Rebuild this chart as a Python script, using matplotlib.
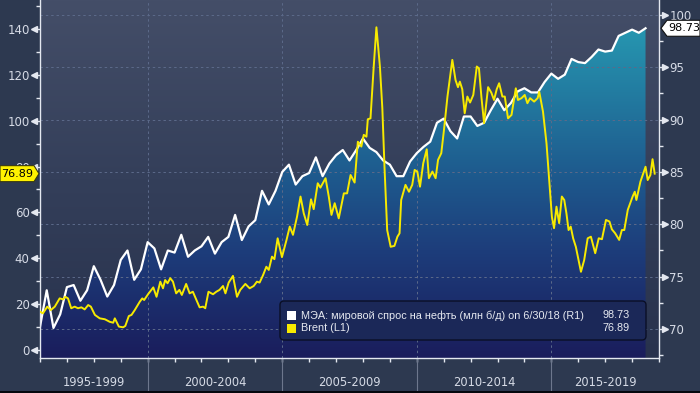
import numpy as np
import matplotlib
matplotlib.use('Agg')
import matplotlib.pyplot as plt
import matplotlib.transforms as mtransforms
from matplotlib import font_manager
from matplotlib.colors import LinearSegmentedColormap
from matplotlib.patches import Polygon, FancyBboxPatch, Rectangle
from matplotlib.ticker import MultipleLocator

# IEA world oil demand, mb/d (right axis), quarterly from 1996
demand = [70.2, 73.7, 70.1, 71.4, 74.0, 74.2, 72.7, 73.7, 76.0, 74.7,
          73.1, 74.2, 76.6, 77.5, 74.7, 75.7, 78.3, 77.7, 75.7, 77.5,
          77.3, 79.0, 76.9, 77.5, 77.9, 78.8, 77.2, 78.3, 78.8, 80.9,
          78.5, 79.8, 80.4, 83.2, 81.9, 83.2, 85.0, 85.7, 83.8, 84.6,
          84.9, 86.4, 84.6, 85.8, 86.6, 87.1, 86.1, 87.1, 88.2, 87.3,
          86.9, 86.1, 85.7, 84.6, 84.6, 86.0, 86.8, 87.4, 87.9, 89.7,
          90.1, 88.9, 88.2, 90.3, 90.3, 89.4, 89.7, 90.9, 92.0, 90.9,
          91.6, 92.7, 93.0, 92.6, 92.6, 93.6, 94.4, 93.9, 94.3, 95.8,
          95.5, 95.4, 96.0, 96.7, 96.5, 96.6, 98.0, 98.3, 98.6, 98.3, 98.73]
demand_dates = 1996 + 0.25 * np.arange(len(demand))

# Brent, USD/bbl (left axis)
brent_dates = [
    1996.00, 1996.11, 1996.27, 1996.40, 1996.55, 1996.73, 1996.86, 1996.94,
    1997.04, 1997.16, 1997.29, 1997.41, 1997.54, 1997.66, 1997.79, 1997.89,
    1998.04, 1998.22, 1998.41, 1998.59, 1998.72, 1998.78, 1998.93, 1999.09,
    1999.17, 1999.30, 1999.40, 1999.52, 1999.71, 1999.80, 1999.87, 2000.02,
    2000.21, 2000.33, 2000.47, 2000.57, 2000.65, 2000.74, 2000.84, 2000.94,
    2001.06, 2001.18, 2001.27, 2001.43, 2001.56, 2001.68, 2001.81, 2001.93,
    2002.06, 2002.14, 2002.26, 2002.43, 2002.55, 2002.67, 2002.80, 2002.89,
    2003.01, 2003.17, 2003.32, 2003.44, 2003.63, 2003.79, 2003.94, 2004.06,
    2004.16, 2004.29, 2004.41, 2004.50, 2004.62, 2004.71, 2004.83, 2004.99,
    2005.16, 2005.28, 2005.40, 2005.55, 2005.68, 2005.80, 2005.93, 2006.07,
    2006.17, 2006.32, 2006.42, 2006.61, 2006.73, 2006.83, 2006.95, 2007.10,
    2007.29, 2007.41, 2007.54, 2007.69, 2007.81, 2007.94, 2008.03, 2008.13,
    2008.18, 2008.28, 2008.40, 2008.50, 2008.63, 2008.72, 2008.80, 2008.90,
    2009.03, 2009.17, 2009.28, 2009.36, 2009.42, 2009.58, 2009.71, 2009.83,
    2009.92, 2010.02, 2010.12, 2010.24, 2010.37, 2010.45, 2010.58, 2010.70,
    2010.79, 2010.91, 2011.01, 2011.14, 2011.32, 2011.44, 2011.53, 2011.60,
    2011.69, 2011.78, 2011.88, 2011.98, 2012.10, 2012.23, 2012.31, 2012.40,
    2012.50, 2012.65, 2012.77, 2012.87, 2012.97, 2013.06, 2013.18, 2013.27,
    2013.39, 2013.52, 2013.68, 2013.76, 2013.89, 2014.01, 2014.11, 2014.21,
    2014.36, 2014.49, 2014.55, 2014.69, 2014.82, 2014.94, 2015.02, 2015.10,
    2015.19, 2015.29, 2015.39, 2015.48, 2015.56, 2015.64, 2015.72, 2015.81,
    2015.91, 2016.01, 2016.10, 2016.22, 2016.35, 2016.47, 2016.63, 2016.76,
    2016.88, 2017.03, 2017.16, 2017.25, 2017.37, 2017.52, 2017.62, 2017.71,
    2017.84, 2018.02, 2018.10, 2018.16, 2018.31, 2018.50, 2018.58, 2018.68,
    2018.76, 2018.84]
brent = [
    16.7, 16.0, 18.9, 17.4, 18.9, 22.5, 22.1, 23.2,
    22.5, 18.2, 18.9, 18.2, 18.6, 17.7, 19.6, 18.9,
    15.3, 13.8, 13.4, 12.3, 11.9, 13.8, 10.2, 9.9,
    10.5, 14.8, 15.3, 17.4, 21.1, 22.5, 21.8, 24.4,
    27.3, 23.2, 29.8, 26.9, 30.5, 29.1, 31.3, 29.8,
    24.7, 26.2, 24.0, 28.8, 24.7, 25.4, 21.8, 18.6,
    18.9, 18.2, 25.4, 24.3, 25.4, 26.2, 27.9, 24.7,
    29.4, 32.3, 23.2, 26.2, 28.8, 26.9, 27.9, 29.8,
    29.4, 32.7, 36.3, 34.9, 40.7, 39.6, 48.7, 40.5,
    48.0, 53.8, 50.2, 58.1, 66.9, 59.6, 54.5, 65.7,
    61.4, 72.7, 70.8, 74.9, 66.9, 58.9, 64.0, 57.4,
    68.3, 68.3, 76.3, 73.0, 90.8, 88.7, 93.8, 93.0,
    100.6, 101.0, 123.6, 140.7, 123.6, 105.4, 79.9, 52.3,
    45.0, 45.4, 49.4, 50.9, 65.4, 72.0, 69.0, 72.0,
    78.5, 77.8, 71.2, 81.4, 87.5, 74.9, 77.8, 74.9,
    82.9, 85.8, 95.9, 110.5, 126.5, 117.7, 114.6, 117.0,
    113.7, 103.2, 110.5, 107.9, 111.2, 123.6, 122.8, 110.5,
    98.9, 114.6, 112.2, 109.0, 113.7, 116.3, 110.5, 110.5,
    101.0, 102.5, 114.1, 109.0, 109.8, 111.2, 107.6, 109.8,
    108.3, 109.8, 112.6, 103.9, 90.1, 71.2, 58.1, 53.1,
    62.5, 55.3, 66.9, 65.4, 59.6, 52.3, 53.8, 48.7,
    45.0, 39.2, 34.1, 39.2, 48.7, 49.4, 42.2, 48.7,
    48.3, 56.7, 56.0, 52.6, 50.9, 48.0, 52.3, 52.3,
    61.1, 66.9, 69.0, 65.4, 73.4, 79.9, 74.1, 76.3,
    83.2, 76.89]

periods = ['1995-1999', '2000-2004', '2005-2009', '2010-2014', '2015-2019']
period_centers = [1998.0, 2002.5, 2007.5, 2012.5, 2017.0]
period_bounds = [2000, 2005, 2010, 2015]

demand_label = 'МЭА: мировой спрос на нефть (млн б/д) on 6/30/18 (R1)'
brent_label = 'Brent (L1)'
demand_last = '98.73'
brent_last = '76.89'

# fonts
names = {f.name for f in font_manager.fontManager.ttflist}
if 'Liberation Sans Narrow' in names:
    narrow, tick_fs, period_fs, tag_fs = 'Liberation Sans Narrow', 10.5, 11, 10
else:
    narrow, tick_fs, period_fs, tag_fs = 'DejaVu Sans', 8.5, 8.3, 8
legend_font = 'Liberation Sans' if 'Liberation Sans' in names else 'DejaVu Sans'

W, H = 700, 393
fig_bg = '#2d3950'
spine_c = '#e4e8f0'
label_c = '#d6dbe6'
grid_c = '#5c6a8a'
yellow = '#f7ea00'

fig = plt.figure(figsize=(W / 100, H / 100), dpi=100, facecolor=fig_bg)
ax = fig.add_axes([40 / W, 35 / H, 619 / W, 358 / H])
ax2 = ax.twinx()

xlim = (1996, 2019)
ylim_r = (67.23, 101.43)
ylim_l = (-3.49, 152.6)

# plot background gradient
bg_cmap = LinearSegmentedColormap.from_list('bg', ['#28324d', '#343f5a', '#444e68'])
grad = np.linspace(0, 1, 256).reshape(-1, 1)
ax.imshow(grad, extent=[xlim[0], xlim[1], ylim_r[0], ylim_r[1]], origin='lower',
          aspect='auto', cmap=bg_cmap, zorder=0)

# area under demand with vertical gradient
fill_cmap = LinearSegmentedColormap.from_list(
    'fill', [(0, '#1a1d5c'), (0.3, '#1d3d7b'), (0.52, '#1e5b8e'), (0.92, '#2696b0'), (1, '#289cb4')])
poly = ax.fill_between(demand_dates, demand, ylim_r[0], facecolor='none', edgecolor='none')
im = ax.imshow(grad, extent=[xlim[0], xlim[1], ylim_r[0], ylim_r[1]], origin='lower',
               aspect='auto', cmap=fill_cmap, zorder=1)
im.set_clip_path(poly.get_paths()[0], transform=ax.transData)

# grid
for y in np.arange(70, 101, 5):
    ax.axhline(y, color=grid_c, ls=(0, (2.5, 3)), lw=0.7, zorder=2)
for x in period_bounds:
    ax.axvline(x, color=grid_c, ls=(0, (2.5, 3)), lw=0.7, zorder=2)

ax.plot(demand_dates, demand, color='white', lw=1.6, zorder=4, solid_joinstyle='round')
ax2.plot(brent_dates, brent, color=yellow, lw=1.4, zorder=5, solid_joinstyle='round')

ax.set_xlim(*xlim)
ax.set_ylim(*ylim_r)
ax2.set_ylim(*ylim_l)

# axes styling
for a in (ax, ax2):
    for s in a.spines.values():
        s.set_visible(False)
for side in ('left', 'right', 'bottom'):
    ax.spines[side].set_visible(True)
    ax.spines[side].set_color(spine_c)
    ax.spines[side].set_linewidth(1.0)
    ax.spines[side].set_zorder(6)

ax.yaxis.tick_right()
ax.set_yticks(np.arange(70, 101, 5))
ax.yaxis.set_minor_locator(MultipleLocator(2.5))
ax.tick_params(axis='y', which='major', length=3, width=1, color=spine_c,
               labelcolor=label_c, labelsize=tick_fs, pad=4.5)
ax.tick_params(axis='y', which='minor', length=3, width=1, color=spine_c)
for t in ax.get_yticklabels():
    t.set_fontfamily(narrow)

ax2.yaxis.tick_left()
ax2.set_yticks(np.arange(0, 141, 20))
ax2.yaxis.set_minor_locator(MultipleLocator(10))
ax2.tick_params(axis='y', which='major', length=3, width=1, color=spine_c,
                labelcolor=label_c, labelsize=tick_fs, pad=4.5)
ax2.tick_params(axis='y', which='minor', length=3, width=1, color=spine_c)
for t in ax2.get_yticklabels():
    t.set_fontfamily(narrow)

ax.set_xticks(np.arange(1996, 2020))
ax.set_xticklabels([])
ax.tick_params(axis='x', length=3, width=1, color=spine_c)

# triangle tick heads
tr_l = mtransforms.blended_transform_factory(ax2.transAxes, ax2.transData)
ax2.plot(np.full(8, -6 / 619), np.arange(0, 141, 20), ls='none', marker='<', ms=4,
         color=spine_c, transform=tr_l, clip_on=False)
tr_r = mtransforms.blended_transform_factory(ax.transAxes, ax.transData)
ax.plot(np.full(7, 1 + 6 / 619), np.arange(70, 101, 5), ls='none', marker='>', ms=4,
        color=spine_c, transform=tr_r, clip_on=False)

# period separators and labels under the axis
tr_x = mtransforms.blended_transform_factory(ax.transData, ax.transAxes)
for x in period_bounds:
    ax.plot([x, x], [0, -36 / 358], color='#6d778d', lw=0.8, transform=tr_x, clip_on=False)
for xc, lab in zip(period_centers, periods):
    ax.text(xc, -25 / 358, lab, transform=tr_x, ha='center', va='center',
            color=label_c, fontsize=period_fs, family=narrow)

ident = mtransforms.IdentityTransform()
fig.add_artist(Rectangle((0, 0), W, 2, transform=ident,
                         facecolor='#05070d', edgecolor='none'))

# last value tags
yl = ax2.transData.transform((2000, float(brent_last)))[1]
fig.add_artist(Polygon([(0, yl - 8), (34, yl - 8), (39, yl), (34, yl + 8), (0, yl + 8)],
                       closed=True, transform=ident, facecolor='#fff200',
                       edgecolor='#3a3a10', lw=0.8, zorder=10))
fig.text(17.5, yl, brent_last, transform=ident, ha='center', va='center',
         color='black', fontsize=tag_fs, family=narrow, zorder=11)

yr = ax.transData.transform((2000, float(demand_last)))[1]
fig.add_artist(Polygon([(661, yr), (667, yr + 8), (700, yr + 8), (700, yr - 8), (667, yr - 8)],
                       closed=True, transform=ident, facecolor='white',
                       edgecolor='#111111', lw=0.8, zorder=10))
fig.text(684, yr, demand_last, transform=ident, ha='center', va='center',
         color='black', fontsize=tag_fs, family=narrow, zorder=11)

# legend box
fig.add_artist(FancyBboxPatch((280, H - 340), 366, 39, boxstyle='round,pad=0,rounding_size=4',
                              transform=ident, facecolor='#1b2858', edgecolor='#0a0f26',
                              lw=1.0, zorder=10))
rows = [(H - 315.5, 'white', demand_label, demand_last),
        (H - 328.0, yellow, brent_label, brent_last)]
for y, c, lab, val in rows:
    fig.add_artist(Rectangle((287, y - 4.5), 9, 9, transform=ident, facecolor=c,
                             edgecolor='none', zorder=11))
    fig.text(301, y, lab, transform=ident, ha='left', va='center', color='#e6e9f0',
             fontsize=7.8, family=legend_font, zorder=11)
    fig.text(630, y, val, transform=ident, ha='right', va='center', color='#e6e9f0',
             fontsize=7.8, family=legend_font, zorder=11)

fig.savefig('out.png', dpi=100, facecolor=fig_bg)
